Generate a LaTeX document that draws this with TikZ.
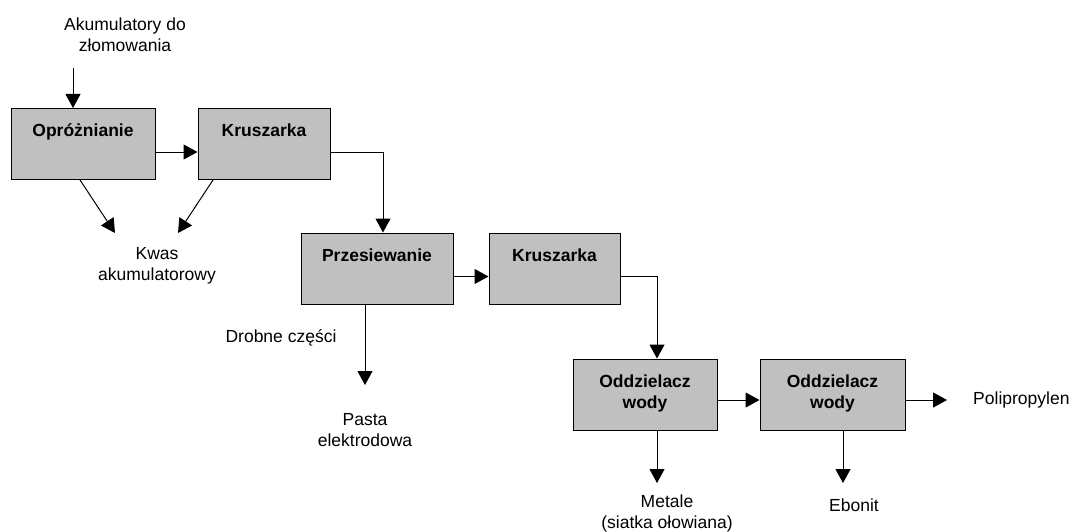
\documentclass[tikz,border=0pt]{standalone}
\usepackage{fontspec}
\setmainfont{Liberation Sans}
\usetikzlibrary{arrows.meta}
\definecolor{szary}{RGB}{192,192,192}
\newcommand{\rozmiar}{\fontsize{17.5}{21}\selectfont}
\tikzset{
	proces/.style={draw, line width=1pt, fill=szary, font=\rozmiar\bfseries, align=center, inner xsep=0pt, inner ysep=0pt, text height=28pt, text depth=43pt},
	proces2/.style={proces, text height=49pt, text depth=22pt},
	opis/.style={align=center, inner sep=0pt},
	strzalka/.style={line width=1pt, -{Triangle[length=14pt,width=15pt]}}
}
\begin{document}
\begin{tikzpicture}[x=1pt, y=-1pt, font=\rozmiar]
	\useasboundingbox (0,0) rectangle (1070,532);

	\node[opis] (wejscie) at (125,35) {Akumulatory do\\złomowania};
	\node[proces, minimum width=144pt] (opr) at (83,144) {Opróżnianie};
	\node[proces, minimum width=132pt] (krusz1) at (264,144) {Kruszarka};
	\node[opis] (kwas) at (157,266) {Kwas\\akumulatorowy};
	\node[proces, minimum width=152pt] (sito) at (377,268.5) {Przesiewanie};
	\node[proces, minimum width=131pt] (krusz2) at (554.5,268.5) {Kruszarka};
	\node[opis] (drobne) at (281,338) {Drobne części};
	\node[opis] (pasta) at (365,430) {Pasta\\elektrodowa};
	\node[proces2, minimum width=144pt] (oddz1) at (645,394.5) {Oddzielacz\\wody};
	\node[proces2, minimum width=145pt] (oddz2) at (832.5,394.5) {Oddzielacz\\wody};
	\node[opis] (metale) at (667,513) {Metale\\(siatka ołowiana)};
	\node[opis] (ebonit) at (854,505) {Ebonit};
	\node[opis, anchor=west] (pp) at (973,400) {Polipropylen};

	% wolne konce strzalek
	\coordinate (wlot) at (73,68);
	\coordinate (kwas-l) at (115,233);
	\coordinate (kwas-p) at (178,233);
	\coordinate (pasta-k) at (365,385);
	\coordinate (metale-k) at (657,483);
	\coordinate (ebonit-k) at (843,483);
	\coordinate (pp-k) at (947,400);

	\draw[strzalka] (wlot) -- (wlot |- opr.north);
	\draw[strzalka] ([yshift=-8pt]opr.east) -- ([yshift=-8pt]krusz1.west);
	\draw[strzalka] ([xshift=-3pt]opr.south) -- (kwas-l);
	\draw[strzalka] ([xshift=-51pt]krusz1.south) -- (kwas-p);
	\draw[strzalka] ([yshift=-8pt]krusz1.east) -| ([xshift=6pt]sito.north);

	\draw[strzalka] ([yshift=-8pt]sito.east) -- ([yshift=-8pt]krusz2.west);
	\draw[strzalka] ([xshift=-12pt]sito.south) -- (pasta-k);
	\draw[strzalka] ([yshift=-8pt]krusz2.east) -| ([xshift=12pt]oddz1.north);

	\draw[strzalka] ([yshift=-5.5pt]oddz1.east) -- ([yshift=-5.5pt]oddz2.west);
	\draw[strzalka] ([xshift=12pt]oddz1.south) -- (metale-k);
	\draw[strzalka] ([xshift=10.5pt]oddz2.south) -- (ebonit-k);
	\draw[strzalka] ([yshift=-5.5pt]oddz2.east) -- (pp-k);

\end{tikzpicture}
\end{document}
